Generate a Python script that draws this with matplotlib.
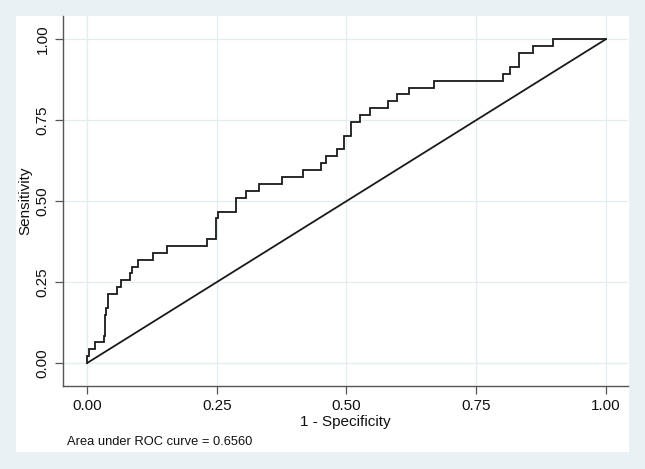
import matplotlib
matplotlib.use("Agg")
import matplotlib.pyplot as plt
from matplotlib.patches import Rectangle

# ROC points (1 - specificity, sensitivity)
fpr = [0.000, 0.000, 0.004, 0.015, 0.032, 0.034, 0.037, 0.041, 0.057, 0.066,
       0.083, 0.087, 0.098, 0.127, 0.153, 0.231, 0.249, 0.252, 0.287, 0.306,
       0.332, 0.376, 0.416, 0.451, 0.461, 0.482, 0.496, 0.509, 0.527, 0.545,
       0.580, 0.598, 0.621, 0.668, 0.802, 0.815, 0.833, 0.860, 0.899, 1.000]
tpr = [0.000, 0.021, 0.043, 0.064, 0.085, 0.149, 0.170, 0.213, 0.234, 0.255,
       0.277, 0.298, 0.319, 0.340, 0.362, 0.383, 0.447, 0.468, 0.511, 0.532,
       0.553, 0.574, 0.596, 0.617, 0.638, 0.660, 0.702, 0.745, 0.766, 0.787,
       0.809, 0.830, 0.851, 0.872, 0.894, 0.915, 0.957, 0.979, 1.000, 1.000]
ref_line = [0.0, 1.0]
tick_vals = [0.00, 0.25, 0.50, 0.75, 1.00]
tick_labels = ["0.00", "0.25", "0.50", "0.75", "1.00"]
auc_text = "Area under ROC curve = 0.6560"

plt.rcParams['font.family'] = ['Liberation Sans', 'DejaVu Sans']

W, H = 645, 469
fig = plt.figure(figsize=(W / 100, H / 100), dpi=100)
fig.patch.set_facecolor('#eaf1f4')
fig.patches.append(Rectangle((16 / W, 1 - 452 / H), (629 - 16) / W, (452 - 16) / H,
                             transform=fig.transFigure, facecolor='white',
                             edgecolor='none', zorder=-10))

ax = fig.add_axes([63 / W, 1 - 386 / H, (628 - 63) / W, (386 - 16) / H])
ax.set_zorder(1)
ax.set_facecolor('white')
ax.plot(fpr, tpr, drawstyle='steps-post', color='#1a1a1a', lw=1.3,
        solid_joinstyle='miter')
ax.plot(ref_line, ref_line, color='#1a1a1a', lw=1.3)

ax.set_xlim(-0.0466, 1.043)
ax.set_ylim(-0.071, 1.072)
ax.set_xticks(tick_vals)
ax.set_xticklabels(tick_labels)
ax.set_yticks(tick_vals)
ax.set_yticklabels(tick_labels, rotation=90, va='center')
ax.tick_params(axis='both', direction='out', length=5.5, width=0.9,
               color='#555555', labelsize=11, labelcolor='#111111', pad=4)
ax.grid(True, color='#e3edf0', lw=0.9)
ax.set_axisbelow(True)
for s in ['top', 'right']:
    ax.spines[s].set_visible(False)
for s in ['left', 'bottom']:
    ax.spines[s].set_color('#555555')
    ax.spines[s].set_linewidth(1.0)

ax.set_xlabel("1 - Specificity", fontsize=11, color='#111111', labelpad=1)
ax.set_ylabel("Sensitivity", fontsize=11, color='#111111', labelpad=2.5)

fig.text(67 / W, 1 - 442 / H, auc_text, fontsize=9.3, color='#111111',
         va='center', ha='left')

fig.savefig("out.png", dpi=100, facecolor=fig.get_facecolor())
